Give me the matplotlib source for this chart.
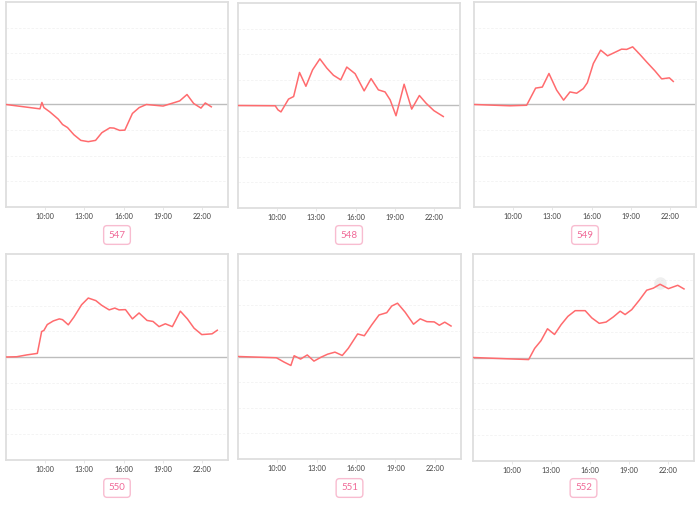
import numpy as np
import matplotlib.pyplot as plt

plt.rcParams['font.family'] = ['Lato', 'DejaVu Sans']

# hours of day (decimal) and values for each panel
names = ['547', '548', '549', '550', '551', '552']

t547 = [7.0, 9.6, 9.75, 9.9, 10.36, 11.0, 11.33, 11.71, 12.2, 12.73, 13.3, 13.86, 14.34, 14.95,
        15.26, 15.7, 16.1, 16.68, 17.2, 17.75, 19.03, 19.8, 20.3, 20.86, 21.37, 21.93, 22.26, 22.72]
v547 = [0.0, -0.17, 0.08, -0.12, -0.29, -0.57, -0.78, -0.9, -1.18, -1.4, -1.45, -1.4, -1.1, -0.91,
        -0.92, -1.01, -1.0, -0.35, -0.12, 0.0, -0.06, 0.06, 0.14, 0.39, 0.04, -0.14, 0.06, -0.09]

t548 = [7.0, 9.85, 10.06, 10.29, 10.87, 11.26, 11.71, 12.2, 12.71, 13.27, 13.8, 14.31, 14.87, 15.33,
        15.97, 16.66, 17.19, 17.75, 18.26, 18.65, 19.1, 19.72, 20.3, 20.89, 21.4, 22.0, 22.72]
v548 = [0.0, -0.01, -0.17, -0.25, 0.25, 0.35, 1.29, 0.75, 1.39, 1.82, 1.46, 1.18, 1.0, 1.5,
        1.24, 0.57, 1.05, 0.61, 0.53, 0.22, -0.4, 0.83, -0.14, 0.39, 0.09, -0.2, -0.43]

t549 = [7.0, 9.76, 11.03, 11.72, 12.23, 12.74, 13.33, 13.86, 14.35, 14.86, 15.37, 15.68, 16.14,
        16.7, 17.23, 17.85, 18.3, 18.69, 19.15, 19.71, 20.22, 20.86, 21.37, 21.96, 22.26]
v549 = [0.0, -0.05, -0.03, 0.64, 0.68, 1.21, 0.56, 0.17, 0.49, 0.44, 0.62, 0.85, 1.6,
        2.12, 1.9, 2.05, 2.16, 2.15, 2.25, 1.95, 1.66, 1.31, 1.0, 1.04, 0.9]

t550 = [7.0, 7.82, 8.58, 9.4, 9.73, 9.9, 10.16, 10.62, 11.08, 11.33, 11.77, 12.2, 12.79, 13.3, 13.88,
        14.32, 14.9, 15.33, 15.66, 16.15, 16.68, 17.19, 17.8, 18.26, 18.72, 19.2, 19.74, 20.35,
        20.89, 21.4, 21.99, 22.78, 23.18]
v550 = [0.0, 0.01, 0.08, 0.14, 0.99, 1.03, 1.26, 1.4, 1.48, 1.45, 1.25, 1.55, 2.03, 2.29, 2.19,
        2.01, 1.83, 1.9, 1.83, 1.84, 1.48, 1.71, 1.42, 1.38, 1.18, 1.29, 1.18, 1.78,
        1.48, 1.12, 0.87, 0.9, 1.04]

t551 = [7.0, 9.93, 10.52, 11.03, 11.28, 11.77, 12.28, 12.79, 13.32, 13.83, 14.39, 14.95, 15.41,
        16.12, 16.63, 17.19, 17.75, 18.34, 18.72, 19.16, 19.74, 20.38, 20.89, 21.4, 21.96, 22.35,
        22.76, 23.24]
v551 = [0.0, -0.05, -0.22, -0.35, 0.03, -0.1, 0.06, -0.18, -0.03, 0.09, 0.17, 0.04, 0.32,
        0.88, 0.81, 1.23, 1.62, 1.71, 1.97, 2.08, 1.73, 1.26, 1.47, 1.36, 1.35, 1.22,
        1.34, 1.19]

t552 = [7.0, 11.28, 11.74, 12.23, 12.73, 13.27, 13.78, 14.3, 14.86, 15.63, 16.14, 16.71, 17.24,
        17.8, 18.32, 18.7, 19.21, 19.8, 20.36, 20.87, 21.39, 22.03, 22.75, 23.23]
v552 = [0.0, -0.08, 0.35, 0.65, 1.11, 0.89, 1.27, 1.59, 1.81, 1.81, 1.53, 1.32, 1.37,
        1.57, 1.79, 1.66, 1.85, 2.22, 2.6, 2.68, 2.83, 2.66, 2.79, 2.65]

series = [(t547, v547), (t548, v548), (t549, v549), (t550, v550), (t551, v551), (t552, v552)]

xticks = [10, 13, 16, 19, 22]
xlabels = ['10:00', '13:00', '16:00', '19:00', '22:00']

# panel boxes in pixels: left, top, right, bottom
W, H = 700, 505
boxes = [(6, 2, 228, 207), (238, 3, 460, 208), (474, 2, 696, 207),
         (6, 254, 228, 460), (238, 254, 461, 459), (473, 254, 694, 461)]
label_y = [235, 235, 235, 488, 488, 488]

fig = plt.figure(figsize=(7, 5.05), dpi=100)

for i, (name, (t, v)) in enumerate(zip(names, series)):
    l, tp, r, b = boxes[i]
    ax = fig.add_axes([l / W, 1 - b / H, (r - l) / W, (b - tp) / H])
    ax.set_xlim(7, 24)
    ax.set_ylim(-4, 4)
    for y in [-3, -2, -1, 1, 2, 3]:
        ax.axhline(y, color='#f2f2f2', lw=0.6, ls=(0, (3, 2)), zorder=0)
    ax.axhline(0, color='#bdbdbd', lw=1.0, zorder=1)
    ax.plot(t, v, color='#ff6b6e', lw=1.1, zorder=3)
    if name == '552':
        ax.plot(21.39, 2.86, 'o', ms=9, color='#e0e0e0', alpha=0.5, mec='none', zorder=2)
    ax.set_xticks(xticks)
    ax.set_xticklabels(xlabels)
    ax.set_yticks([])
    ax.tick_params(axis='x', length=2, width=0.5, color='#dddddd', labelsize=5.3,
                   labelcolor='#444444', pad=2)
    for s in ax.spines.values():
        s.set_color('#dedede')
        s.set_linewidth(1.3)

    cx = (l + r) / 2
    fig.text(cx / W, 1 - label_y[i] / H, name, ha='center', va='center', fontsize=7,
             color='#f06a98',
             bbox=dict(boxstyle='round,pad=0.5,rounding_size=0.35', fc='white',
                       ec='#f8bcd0', lw=1.0))

fig.savefig('out.png', dpi=100)
